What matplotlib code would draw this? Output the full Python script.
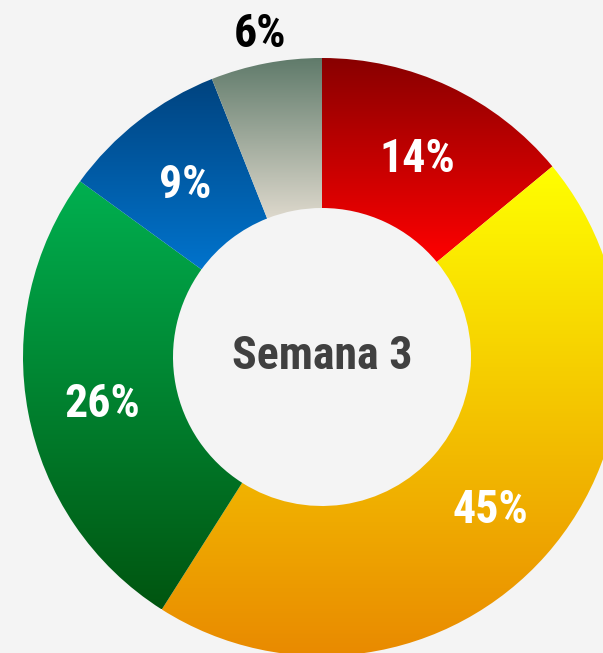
import numpy as np
import matplotlib
matplotlib.use("Agg")
import matplotlib.pyplot as plt
from matplotlib.patches import Wedge
from matplotlib.colors import to_rgb

plt.rcParams['font.family'] = ['Roboto Condensed', 'Liberation Sans', 'DejaVu Sans']

labels = ["14%", "45%", "26%", "9%", "6%"]
values = [14, 45, 26, 9, 6]
top_colors = ["#880000", "#FFFF00", "#00B050", "#00437F", "#5F7A6A"]
bottom_colors = ["#FF0000", "#E98A00", "#005510", "#0073CC", "#DDD8CC"]
center_title = "Semana 3"

W, H = 603, 653
bg = "#F4F4F4"
fig = plt.figure(figsize=(W / 100, H / 100), dpi=100, facecolor=bg)
ax = fig.add_axes([0, 0, 1, 1])
ax.set_xlim(0, W)
ax.set_ylim(0, H)
ax.set_aspect('equal')
ax.axis('off')
ax.set_facecolor(bg)

cx, cy = 322, H - 357
r_out, r_in = 299, 149
total = sum(values)
start = 90.0
for lab, v, ct, cb in zip(labels, values, top_colors, bottom_colors):
    span = 360.0 * v / total
    t2 = start
    t1 = start - span
    w = Wedge((cx, cy), r_out, t1, t2, width=r_out - r_in, facecolor='none', edgecolor='none')
    ax.add_patch(w)
    ext = w.get_path().get_extents()
    n = 256
    c0 = np.array(to_rgb(cb))
    c1 = np.array(to_rgb(ct))
    tt = np.linspace(0, 1, n)[:, None]
    grad = (c0 * (1 - tt) + c1 * tt)[:, None, :]
    im = ax.imshow(grad, extent=[ext.x0, ext.x1, ext.y0, ext.y1], origin='lower',
                   aspect='auto', interpolation='bilinear', zorder=1)
    im.set_clip_path(w)
    mid = np.deg2rad((t1 + t2) / 2)
    if v >= 8:
        rr = (r_out + r_in) / 2
        col = 'white'
        dy = -5
    else:
        rr = 330
        col = 'black'
        dy = -1
    ax.text(cx + rr * np.cos(mid), cy + rr * np.sin(mid) + dy, lab, ha='center', va='center',
            fontsize=33, fontweight='bold', color=col, zorder=3)
    start = t1

ax.text(cx, cy + 1, center_title, ha='center', va='center', fontsize=33,
        fontweight='bold', color='#404040', zorder=3)

fig.savefig("out.png", dpi=100, facecolor=bg)
